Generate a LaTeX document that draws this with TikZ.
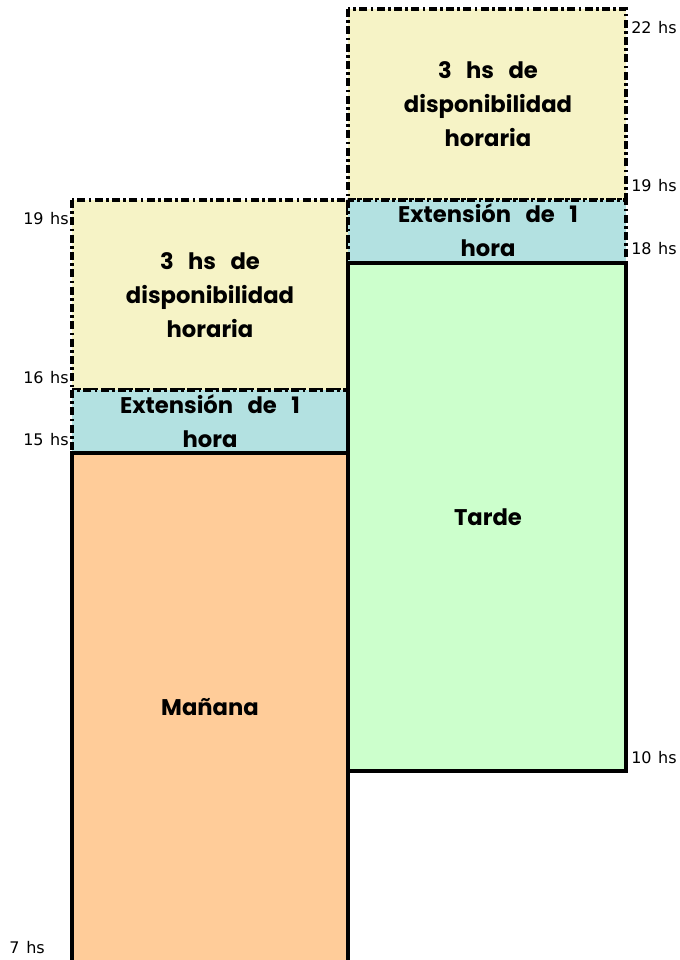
\documentclass[tikz,border=0pt]{standalone}
\usepackage{fontspec}
\setmainfont{Poppins}[WordSpace=3]
\newfontfamily\horafont{DejaVu Sans}[WordSpace=1.3]
\definecolor{amarillo}{HTML}{F6F3C6}
\definecolor{celeste}{HTML}{B3E1E1}
\definecolor{verde}{HTML}{CCFFCC}
\definecolor{naranja}{HTML}{FFCC99}
\begin{document}
\begin{tikzpicture}[line join=miter, x=0.75pt, y=-0.75pt]
			\tikzset{turno/.style={draw=black, line width=3pt},
				rango/.style={draw=black, line width=3pt, dash pattern=on 6pt off 2.5pt on 2pt off 2.5pt},
				caja/.style={font=\bfseries\fontsize{17}{25.5}\selectfont, align=center, inner sep=0pt},
				hora/.style={font=\horafont\fontsize{12}{13}\selectfont, inner sep=0pt}}
			\useasboundingbox (0,0) rectangle (680,960);
			\begin{scope}
				% columna de la mañana
				\draw[rango, fill=amarillo] (72,200) rectangle (348,390);
				\draw[rango, fill=celeste] (72,390) rectangle (348,453);
				\draw[turno, fill=naranja] (72,453) rectangle (348,975);
				\node[caja] (dispoM) at (210,295) {3 hs de\\disponibilidad\\horaria};
				\node[caja] (extM) at (210,421) {Extensión de 1\\hora};
				\node[caja] (manana) at (210,707) {Mañana};
			\end{scope}
			\begin{scope}
				% columna de la tarde
				\draw[rango, fill=amarillo] (348,9) rectangle (626,200);
				\draw[rango, fill=celeste] (348,200) rectangle (626,263);
				\draw[turno, fill=verde] (348,263) rectangle (626,771);
				\node[caja] (dispoT) at (488,104) {3 hs de\\disponibilidad\\horaria};
				\node[caja] (extT) at (488,230) {Extensión de 1\\hora};
				\node[caja] (tarde) at (488,517) {Tarde};
			\end{scope}
			\node[hora, anchor=west] (h22) at (631,28) {22 hs}; \node[hora, anchor=west] (h19T) at (631,186) {19 hs};
			\node[hora, anchor=west] (h18) at (631,249) {18 hs}; \node[hora, anchor=west] (h10) at (631,758) {10 hs};
			\node[hora, anchor=east] (h19M) at (69,219) {19 hs}; \node[hora, anchor=east] (h16) at (69,378) {16 hs};
			\node[hora, anchor=east] (h15) at (69,440) {15 hs}; \node[hora, anchor=east] (h7) at (45,948) {7 hs};
		\end{tikzpicture}
\end{document}
